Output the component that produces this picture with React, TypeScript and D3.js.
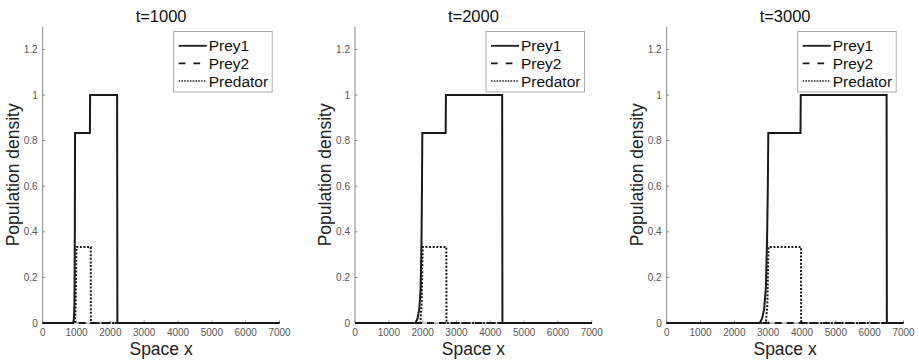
import * as d3 from 'd3'

// ---- data ----
const xTicks = [0, 1000, 2000, 3000, 4000, 5000, 6000, 7000]
const yTicks = [0, 0.2, 0.4, 0.6, 0.8, 1, 1.2]
const titles = ['t=1000', 't=2000', 't=3000']
const legendNames = ['Prey1', 'Prey2', 'Predator']

const prey1T1000: [number, number][] = [[0, 0], [900, 0], [925, 0.02], [940, 0.1], [950, 0.4], [956, 0.833], [1395, 0.833], [1402, 1], [2200, 1], [2208, 0], [7000, 0]]
const prey1T2000: [number, number][] = [[0, 0], [1790, 0], [1850, 0.02], [1900, 0.06], [1940, 0.15], [1965, 0.35], [1980, 0.6], [1990, 0.833], [2680, 0.833], [2688, 1], [4350, 1], [4358, 0], [7000, 0]]
const prey1T3000: [number, number][] = [[0, 0], [2750, 0], [2820, 0.02], [2880, 0.06], [2930, 0.15], [2965, 0.35], [2990, 0.6], [3003, 0.833], [3955, 0.833], [3963, 1], [6500, 1], [6508, 0], [7000, 0]]

const prey2T1000: [number, number][] = [[0, 0], [7000, 0]]
const prey2T2000: [number, number][] = [[0, 0], [7000, 0]]
const prey2T3000: [number, number][] = [[0, 0], [7000, 0]]

const predT1000: [number, number][] = [[0, 0], [955, 0], [975, 0.08], [990, 0.25], [1000, 0.333], [1420, 0.333], [1424, 0], [7000, 0]]
const predT2000: [number, number][] = [[0, 0], [1930, 0], [1970, 0.08], [1990, 0.25], [2003, 0.333], [2700, 0.333], [2704, 0], [7000, 0]]
const predT3000: [number, number][] = [[0, 0], [2930, 0], [2975, 0.08], [2997, 0.25], [3010, 0.333], [3970, 0.333], [3974, 0], [7000, 0]]

const panels = [
  { title: titles[0], prey1: prey1T1000, prey2: prey2T1000, pred: predT1000 },
  { title: titles[1], prey1: prey1T2000, prey2: prey2T2000, pred: predT2000 },
  { title: titles[2], prey1: prey1T3000, prey2: prey2T3000, pred: predT3000 },
]

const W = 919
const H = 363
const FONT = 'Helvetica, "Liberation Sans", Arial, sans-serif'
const panelLeft = [42.7, 355, 666.7]
const plotW = 236.8
const top = 26.6
const bottom = 323
const styles = [
  { dash: null, width: 2 },
  { dash: '7,5', width: 2 },
  { dash: '2,1.6', width: 2 },
]

function Panel({ i }: { i: number }) {
  const p = panels[i]
  const x0 = panelLeft[i]
  const xS = d3.scaleLinear().domain([0, 7000]).range([x0, x0 + plotW])
  const yS = d3.scaleLinear().domain([0, 1.3]).range([bottom, top])
  const line = d3.line<[number, number]>().x(d => xS(d[0])).y(d => yS(d[1]))
  const series = [p.prey1, p.prey2, p.pred]
  const lgX = x0 + plotW - 105.8
  const lgY = 31.5
  return (
    <g>
      <text x={x0 + plotW / 2} y={21.5} textAnchor="middle" fontSize={16.5} fill="#111">{p.title}</text>
      {/* axes */}
      <line x1={x0} y1={top} x2={x0} y2={bottom} stroke="#8a8a8a" strokeWidth={1} />
      <line x1={x0} y1={bottom} x2={x0 + plotW} y2={bottom} stroke="#8a8a8a" strokeWidth={1} />
      {xTicks.map(t => (
        <g key={'x' + t}>
          <line x1={xS(t)} y1={bottom} x2={xS(t)} y2={bottom - 2.5} stroke="#8a8a8a" />
          <text x={xS(t)} y={bottom + 13} textAnchor="middle" fontSize={10} fill="#555">{t}</text>
        </g>
      ))}
      {yTicks.map(t => (
        <g key={'y' + t}>
          <line x1={x0} y1={yS(t)} x2={x0 + 2.5} y2={yS(t)} stroke="#8a8a8a" />
          <text x={x0 - 5} y={yS(t) + 3.5} textAnchor="end" fontSize={10} fill="#555">{t}</text>
        </g>
      ))}
      <text x={x0 + plotW / 2} y={355} textAnchor="middle" fontSize={17.5} fill="#222">Space x</text>
      <text transform={`translate(${x0 - 24},${(top + bottom) / 2}) rotate(-90)`} textAnchor="middle" fontSize={17.5} fill="#222">Population density</text>
      {/* curves */}
      {series.map((s, k) => (
        <path key={k} d={line(s) ?? ''} fill="none" stroke="#1a1a1a" strokeWidth={styles[k].width}
          strokeDasharray={styles[k].dash ?? undefined} strokeLinejoin="miter" />
      ))}
      {/* legend */}
      <rect x={lgX} y={lgY} width={98.5} height={60.5} fill="#fff" stroke="#aaa" strokeWidth={1} />
      {legendNames.map((n, k) => {
        const yy = lgY + 14.3 + k * 17.6
        return (
          <g key={n}>
            <line x1={lgX + 5} y1={yy} x2={lgX + 33} y2={yy} stroke="#1a1a1a" strokeWidth={k === 2 ? 1.6 : 1.8}
              strokeDasharray={k === 1 ? '6.7,8' : k === 2 ? '1.5,1.3' : undefined} />
            <text x={lgX + 35} y={yy + 5.5} fontSize={15.5} fill="#111">{n}</text>
          </g>
        )
      })}
    </g>
  )
}

export default function App() {
  return (
    <svg width={W} height={H} style={{ position: 'absolute', left: 0, top: 0, background: '#fff', fontFamily: FONT }}>
      <rect width={W} height={H} fill="#fff" />
      {panels.map((_, i) => <Panel key={i} i={i} />)}
    </svg>
  )
}
